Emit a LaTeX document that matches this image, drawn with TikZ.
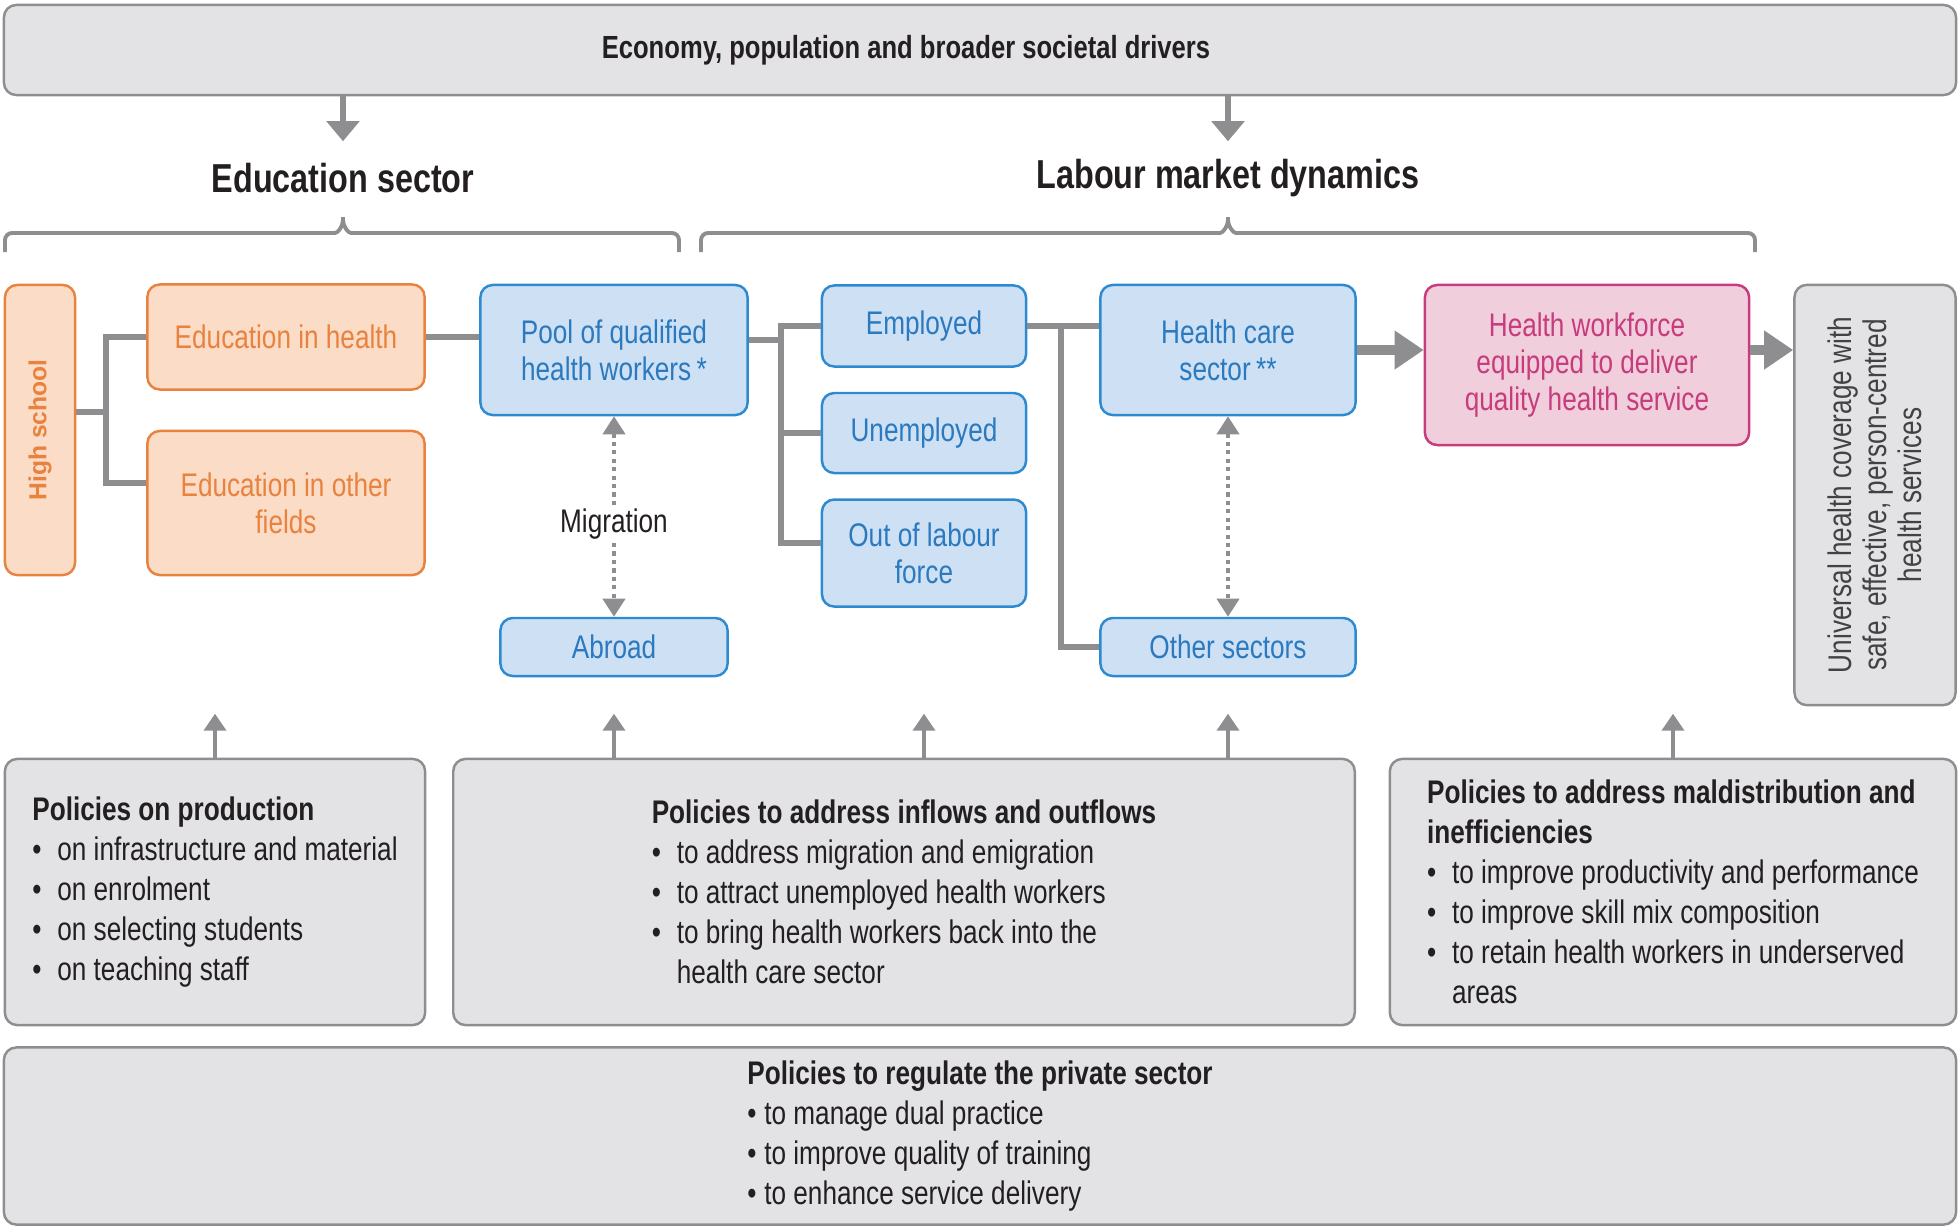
\documentclass[tikz,border=0pt]{standalone}
\usepackage{fontspec}
\setmainfont{Liberation Sans}[FakeStretch=0.8]
\newfontfamily\widesans{Liberation Sans}
\usepackage{tikz}
\usetikzlibrary{
    arrows.meta,
    positioning
}
\definecolor{edgeorange}{HTML}{E8823E}
\definecolor{fillorange}{HTML}{FBDCC7}
\definecolor{edgeblue}{HTML}{2E8AD0}
\definecolor{fillblue}{HTML}{CEE0F4}
\definecolor{textblue}{HTML}{2B79BF}
\definecolor{edgepink}{HTML}{C63C7D}
\definecolor{fillpink}{HTML}{F1CEDC}
\definecolor{edgegray}{HTML}{8E8E90}
\definecolor{fillgray}{HTML}{E3E3E5}
\definecolor{textdark}{HTML}{231F20}
\newcommand{\itm}[2][0.25cm]{\makebox[#1][l]{\textbullet}#2}

\begin{document}
\begin{tikzpicture}[x=0.01cm, y=-0.01cm, font=\fontsize{9.3}{10.5}\selectfont,
    box/.style={draw, rounded corners=3.5pt, line width=0.7pt, inner sep=0pt, align=center},
    edubox/.style={box, draw=edgeorange, fill=fillorange, text=edgeorange},
    lmbox/.style={box, draw=edgeblue, fill=fillblue, text=textblue},
    hwfbox/.style={box, draw=edgepink, fill=fillpink, text=edgepink},
    polbox/.style={box, draw=edgegray, fill=fillgray, text=textdark, font=\fontsize{9.3}{11.4}\selectfont},
    sector/.style={text=textdark, font=\fontsize{11.5}{13}\selectfont\bfseries},
    link/.style={draw=edgegray, line width=1.7pt},
    bracket/.style={draw=edgegray, line width=1.1pt, rounded corners=2pt},
    flow/.style={draw=edgegray, line width=2.8pt, -{Triangle[length=0.29cm,width=0.37cm]}},
    drive/.style={draw=edgegray, line width=1.7pt, -{Triangle[length=0.2cm,width=0.32cm]}},
    lever/.style={draw=edgegray, line width=1.1pt, -{Triangle[length=0.17cm,width=0.22cm]}},
    migr/.style={draw=edgegray, line width=1.1pt, dash pattern=on 1.2pt off 1.2pt,
        {Triangle[length=0.18cm,width=0.22cm]}-{Triangle[length=0.18cm,width=0.22cm]}}]
\useasboundingbox (0,0) rectangle (1960,1230);

% drivers and the two sectors
\node[polbox, minimum width=19.51cm, minimum height=0.9cm,
    label={[xshift=-0.74cm, text=textdark, font=\fontsize{9.1}{11}\selectfont\bfseries]center:Economy, population and broader societal drivers}] (econ) at (980,50) {};
\node[sector] (edusec) at (343,178) {Education sector};
\node[sector] (labour) at (1228,178) {Labour market dynamics};
\draw[drive] (econ.south -| edusec) -- ++(0,45);
\draw[drive] (econ.south -| labour) -- ++(0,45);
\draw[bracket] (5,252) |- (328,233) .. controls (338,233) and (343,226) .. (343,213) .. controls (343,226) and (348,233) .. (358,233) -| (679,252);
\draw[bracket] (701,252) |- (1213,233) .. controls (1223,233) and (1228,226) .. (1228,213) .. controls (1228,226) and (1233,233) .. (1243,233) -| (1755,252);

% education
\node[edubox, minimum width=0.7cm, minimum height=2.9cm,
    label={[rotate=90, text=edgeorange, font=\widesans\fontsize{7}{8}\selectfont\bfseries]center:High school}] (hs) at (40,430) {};
\node[edubox, minimum width=2.77cm, minimum height=1.05cm] (eduh) at (286,337) {Education in health};
\node[edubox, minimum width=2.77cm, minimum height=1.44cm] (eduo) at (286,503) {Education in other\\fields};

% labour market
\node[lmbox, minimum width=2.67cm, minimum height=1.3cm] (pool) at (614,350) {Pool of qualified\\health workers\,*};
\node[lmbox, minimum width=2.27cm, minimum height=0.58cm] (abroad) at (614,647) {Abroad};
\node[lmbox, minimum width=2.04cm, minimum height=0.81cm] (employed) at (924,326) {Employed};
\node[lmbox, minimum width=2.04cm, minimum height=0.8cm, below=0.24cm of employed] (unemployed) {Unemployed};
\node[lmbox, minimum width=2.04cm, minimum height=1.07cm, below=0.24cm of unemployed] (outlab) {Out of labour\\force};
\node[lmbox, minimum width=2.55cm, minimum height=1.3cm] (hcs) at (1228,350) {Health care\\sector\,**};
\node[lmbox, minimum width=2.55cm, minimum height=0.58cm] (other) at (1228,647) {Other sectors};
\node[hwfbox, minimum width=3.24cm, minimum height=1.6cm] (hwf) at (1587,365) {Health workforce\\equipped to deliver\\quality health service};
\node[polbox, minimum width=1.61cm, minimum height=4.2cm,
    label={[rotate=90, align=center, text=textdark!85, font=\fontsize{9.3}{10}\selectfont]center:Universal health coverage with\\safe, effective, person-centred\\health services}] (uhc) at (1875,495) {};

% links
\coordinate (hsj) at (106,412);
\coordinate (poolj) at (781,340);
\coordinate (hcsj) at (1061,326);
\draw[link] (hs.east |- hsj) -- (hsj);
\draw[link] (eduh.west) -| (hsj) |- ([yshift=0.2cm]eduo.west);
\draw[link] (eduh.east) -- (eduh.east -| pool.west);
\draw[link] (pool.east |- poolj) -- (poolj);
\draw[link] (employed.west) -| (poolj) |- ([yshift=0.1cm]outlab.west);
\draw[link] (unemployed.west) -- (unemployed.west -| poolj);
\draw[link] (employed.east) -- (employed.east -| hcs.west);
\draw[link] (hcsj) |- (other.west);
\draw
(hcs.east) edge[flow] (hcs.east -| hwf.west)
(hwf.east |- hcs.east) edge[flow] (hcs.east -| uhc.west)
(pool.south) edge[migr] node[pos=0.54, fill=white, text=textdark, inner sep=1pt] {Migration} (abroad.north)
(hcs.south) edge[migr] (other.north);

% policies
\node[polbox, minimum width=4.2cm, minimum height=2.66cm, align=left] (pprod) at (215,892)
    {\textbf{Policies on production}\\\itm{on infrastructure and material}\\\itm{on enrolment}\\\itm{on selecting students}\\\itm{on teaching staff}};
\node[polbox, minimum width=9.01cm, minimum height=2.66cm, align=left] (pflow) at (904,892)
    {\textbf{Policies to address inflows and outflows}\\\itm{to address migration and emigration}\\\itm{to attract unemployed health workers}\\\itm{to bring health workers back into the}\\\hspace*{0.25cm}health care sector};
\node[polbox, minimum width=5.66cm, minimum height=2.66cm, align=left] (pdist) at (1673,892)
    {\textbf{Policies to address maldistribution and}\\\textbf{inefficiencies}\\\itm{to improve productivity and performance}\\\itm{to improve skill mix composition}\\\itm{to retain health workers in underserved}\\\hspace*{0.25cm}areas};
\node[polbox, minimum width=19.51cm, minimum height=1.77cm, align=left] (ppriv) at (980,1136)
    {\textbf{Policies to regulate the private sector}\\\itm[0.17cm]{to manage dual practice}\\\itm[0.17cm]{to improve quality of training}\\\itm[0.17cm]{to enhance service delivery}};
\draw[lever] (pprod.north) -- ++(0,-44);
\draw[lever] (pflow.north -| abroad) -- ++(0,-44);
\draw[lever] (pflow.north -| outlab) -- ++(0,-44);
\draw[lever] (pflow.north -| other) -- ++(0,-44);
\draw[lever] (pdist.north) -- ++(0,-44);
\end{tikzpicture}
\end{document}
